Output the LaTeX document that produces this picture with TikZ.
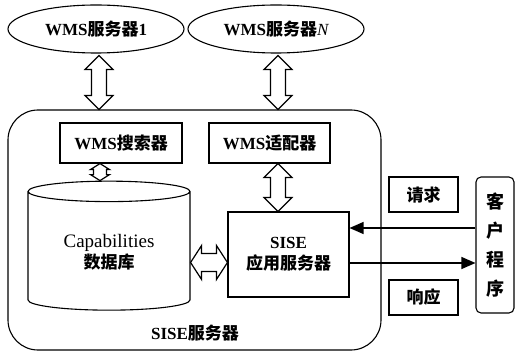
\documentclass[tikz,border=0pt]{standalone}
\usepackage{fontspec}
\setmainfont{Liberation Serif}
\newfontfamily\cjk{Noto Sans CJK SC}
\usetikzlibrary{arrows.meta,positioning,shapes.geometric,calc}
\newcommand{\zh}[1]{{\cjk #1}}

\begin{document}
\begin{tikzpicture}[
  x=1pt,y=-1pt,
  every node/.style={font=\bfseries\fontsize{17}{21}\selectfont},
  server/.style={
    draw,
    ellipse,
    line width=1.1pt,
    minimum width=176pt,
    minimum height=48pt
  },
  box/.style={draw,line width=1.1pt,align=center},
  % hollow double arrows: head length, half head width, half shaft width
  vfat/.style n args={3}{
    draw,line width=1.2pt,fill=white,
    to path={let \p1=(\tikztostart),\p2=(\tikztotarget) in
      (\x1,\y1) -- (\x1+#2,\y1-#1) -- (\x1+#3,\y1-#1) -- (\x1+#3,\y2+#1)
      -- (\x1+#2,\y2+#1) -- (\x1,\y2) -- (\x1-#2,\y2+#1) -- (\x1-#3,\y2+#1)
      -- (\x1-#3,\y1-#1) -- (\x1-#2,\y1-#1) -- cycle}
  },
  hfat/.style n args={3}{
    draw,line width=1.2pt,fill=white,
    to path={let \p1=(\tikztostart),\p2=(\tikztotarget) in
      (\x1,\y1) -- (\x1+#1,\y1+#2) -- (\x1+#1,\y1+#3) -- (\x2-#1,\y1+#3)
      -- (\x2-#1,\y1+#2) -- (\x2,\y1) -- (\x2-#1,\y1-#2) -- (\x2-#1,\y1-#3)
      -- (\x1+#1,\y1-#3) -- (\x1+#1,\y1-#2) -- cycle}
  },
  arrow/.style={line width=1.2pt,-{Triangle[length=14pt,width=12pt]}}
]
  \useasboundingbox (0,0) rectangle (516,352);

  \node[server] (wms1) at (96,29) {WMS\zh{服务器}1};
  \node[server] (wmsN) at (276,29) {WMS\zh{服务器}{\mdseries\itshape N}};

  \node[draw,line width=1.1pt,rounded corners=30pt,
    minimum width=373pt,minimum height=240pt] (siseserver) at (194.5,230) {};
  \node (sisename) at (195,333) {SISE\zh{服务器}};

  \node[box,minimum width=122pt,minimum height=40pt] (search) at (121,143)
    {WMS\zh{搜索器}};
  \node[box,minimum width=121pt,minimum height=40pt] (adapter) at (269.5,143)
    {WMS\zh{适配器}};
  \node[cylinder,draw,line width=1.1pt,shape border rotate=90,shape aspect=0.21,
    minimum width=162pt,minimum height=129pt,align=center] (db) at (109,252.5)
    {{\mdseries\fontsize{19}{24}\selectfont Capabilities}\\\zh{数据库}};
  \node[box,minimum width=121pt,minimum height=85pt] (app) at (288.5,254.5)
    {SISE\\\zh{应用服务器}};

  \node[box,minimum width=69pt,minimum height=35pt] (req) at (423.5,194.5) {\zh{请求}};
  \node[box,minimum width=69pt,minimum height=35pt] (resp) at (423.5,297.5) {\zh{响应}};
  \node[box,rounded corners=5pt,minimum width=38pt,minimum height=136pt,
    font=\bfseries\fontsize{18}{29}\selectfont] (client) at (495,245)
    {\zh{客}\\\zh{户}\\\zh{程}\\\zh{序}};

  \draw[vfat={14pt}{14pt}{7.5pt}] ([xshift=3pt,yshift=-2pt]wms1.south)
    to ([xshift=3pt]wms1.south |- siseserver.north);
  \draw[vfat={14pt}{14pt}{7.5pt}] ([xshift=2pt,yshift=-2pt]wmsN.south)
    to ([xshift=2pt]wmsN.south |- siseserver.north);
  \draw[vfat={6pt}{9.5pt}{6.5pt}] ([xshift=4pt]search.south -| wms1.south)
    to ([xshift=4pt]db.north -| wms1.south);
  \draw[vfat={14pt}{14pt}{7.5pt}] ([xshift=2pt]adapter.south -| wmsN.south)
    to ([xshift=2pt]app.north -| wmsN.south);
  \draw[hfat={11pt}{17pt}{9pt}] ([yshift=-10pt]db.east)
    to ([yshift=-10pt]db.east -| app.west);

  \draw[arrow] ([yshift=17pt]client.west) -- ([yshift=17pt]client.west -| app.east);
  \draw[arrow] ([yshift=-18pt]client.west -| app.east) -- ([yshift=-18pt]client.west);
\end{tikzpicture}
\end{document}
